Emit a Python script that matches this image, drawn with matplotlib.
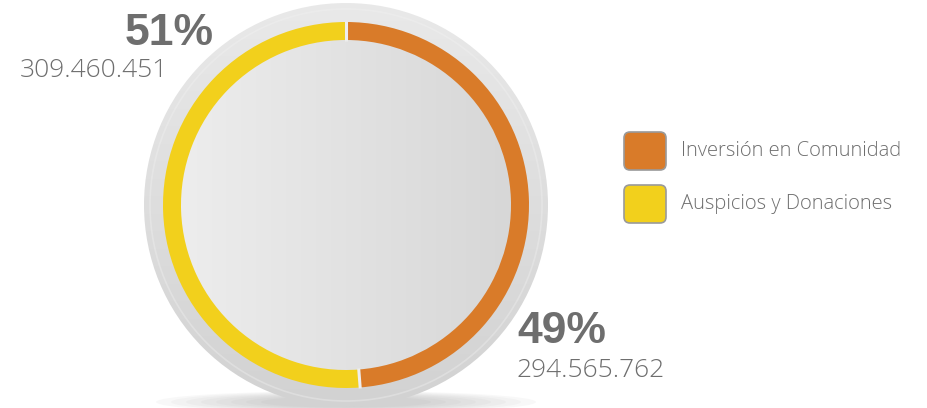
import numpy as np
import matplotlib
matplotlib.use("Agg")
import matplotlib.pyplot as plt
from matplotlib.patches import Circle, FancyBboxPatch, Ellipse

# data
labels = ["Inversión en Comunidad", "Auspicios y Donaciones"]
values = [294565762, 309460451]
colors = ["#D97B29", "#F2D01C"]
value_text = ["294.565.762", "309.460.451"]

text_gray = "#6e6e6e"

fig = plt.figure(figsize=(9.28, 4.08), dpi=100)
ax = fig.add_axes([0, 0, 1, 1])

cx, cy = 346, 203
r_back = 202
r_ring = 183
ring_w = 18
r_inner = r_ring - ring_w

# soft shadow under the disc
for i in range(8):
    ax.add_patch(Ellipse((cx, 6), 380 - i * 30, 22 - i * 1.5,
                         facecolor="#888888", alpha=0.05, lw=0, zorder=0))

# big back disc with vertical gradient
back = Circle((cx, cy), r_back, facecolor="none", lw=0)
ax.add_patch(back)
grad_v = np.linspace(0, 1, 256).reshape(-1, 1)
im = ax.imshow(grad_v, cmap=matplotlib.colors.LinearSegmentedColormap.from_list(
    "bk", ["#d2d2d2", "#e9e9e9"]), origin="lower",
    extent=(cx - r_back, cx + r_back, cy - r_back, cy + r_back), zorder=1)
im.set_clip_path(back)
ax.add_patch(Circle((cx, cy), r_back - 6, facecolor="none", edgecolor="#f3f3f3",
                    lw=1.2, alpha=0.35, zorder=1.5))

# inner disc, horizontal gradient
inner = Circle((cx, cy), r_inner + 1, facecolor="none", lw=0)
ax.add_patch(inner)
grad_h = np.linspace(0, 1, 256).reshape(1, -1)
im2 = ax.imshow(grad_h, cmap=matplotlib.colors.LinearSegmentedColormap.from_list(
    "in", ["#ededed", "#d7d7d7"]), origin="lower",
    extent=(cx - r_inner, cx + r_inner, cy - r_inner, cy + r_inner), zorder=2)
im2.set_clip_path(inner)

# ring
wedges, _ = ax.pie(values, colors=colors, startangle=90, counterclock=False,
                   radius=r_ring, center=(cx, cy),
                   wedgeprops=dict(width=ring_w, linewidth=0))
for w in wedges:
    w.set_zorder(3)

# thin light gaps between segments
cum = np.cumsum([0] + values) / sum(values)
for frac in cum[:-1]:
    ang = np.deg2rad(90 - 360 * frac)
    ax.plot([cx + (r_inner - 1) * np.cos(ang), cx + (r_ring + 1) * np.cos(ang)],
            [cy + (r_inner - 1) * np.sin(ang), cy + (r_ring + 1) * np.sin(ang)],
            color="#eeeeee", lw=2.2, zorder=4, solid_capstyle="butt")

ax.set_xlim(0, 928)
ax.set_ylim(0, 408)
ax.set_aspect("equal")
ax.axis("off")

pcts = [v / sum(values) * 100 for v in values]

# labels
ax.text(125, 408 - 45, f"{pcts[1]:.0f}%", fontsize=32, fontweight="bold",
        family="Liberation Sans", color=text_gray, ha="left", va="baseline")
ax.text(20, 408 - 77, value_text[1], fontsize=19, family="Open Sans",
        fontweight="light", color=text_gray, ha="left", va="baseline")
ax.text(517, 408 - 343, f"{pcts[0]:.0f}%", fontsize=32, fontweight="bold",
        family="Liberation Sans", color=text_gray, ha="left", va="baseline")
ax.text(517, 408 - 377, value_text[0], fontsize=19, family="Open Sans",
        fontweight="light", color=text_gray, ha="left", va="baseline")

# legend
for i, (lab, col) in enumerate(zip(labels, colors)):
    yc = 408 - (151 + i * 53)
    ax.add_patch(FancyBboxPatch((624, yc - 19), 42, 38,
                                boxstyle="round,pad=0,rounding_size=6",
                                facecolor=col, edgecolor="#9a9a9a", lw=1.2, zorder=4))
    ax.text(681, yc, lab, fontsize=14.5, family="Open Sans", fontweight="light",
            color=text_gray, ha="left", va="center")

fig.savefig("out.png", dpi=100)
